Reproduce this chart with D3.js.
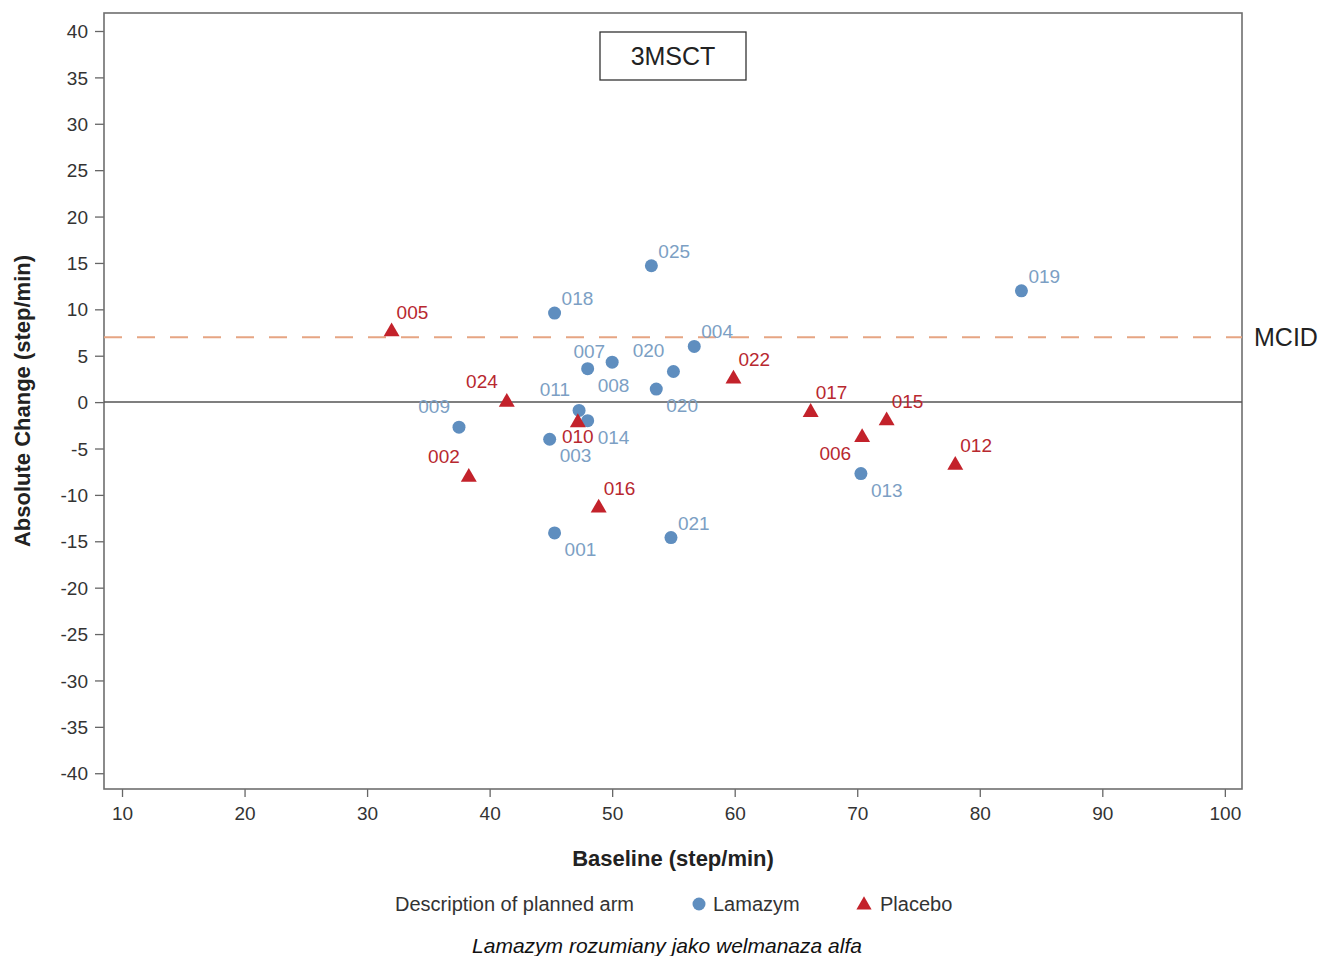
<!DOCTYPE html>
<html>
<head>
<meta charset="utf-8">
<script src="https://cdn.jsdelivr.net/npm/d3@7"></script>
<style>
  body { margin: 0; background: #fff; }
  svg { font-family: "Liberation Sans", Arial, sans-serif; }
</style>
</head>
<body>
<div id="chart"></div>
<script>
// Lamazym arm (blue circles)
const lamazymIds   = ["025", "018", "019", "004", "008", "007", "020", "020", "011", "014", "003", "009", "001", "021", "013"];
const lamazymBase  = [53.2, 45.3, 83.4, 56.7, 48.0, 50.0, 55.0, 53.6, 47.3, 48.0, 44.9, 37.5, 45.3, 54.8, 70.3];
const lamazymChg   = [14.7, 9.6, 12.0, 6.0, 3.6, 4.3, 3.3, 1.4, -0.9, -2.0, -4.0, -2.7, -14.1, -14.6, -7.7];
const lamazymPos   = ["ne", "ne", "ne", "ne", "se", "w", "nw", "se", "nw", "se", "se", "nw", "se", "ne", "se"];

// Placebo arm (red triangles)
const placeboIds   = ["005", "024", "002", "010", "016", "022", "017", "015", "006", "012"];
const placeboBase  = [32.0, 41.4, 38.3, 47.2, 48.9, 59.9, 66.2, 72.4, 70.4, 78.0];
const placeboChg   = [7.6, 0.0, -8.1, -2.2, -11.4, 2.5, -1.1, -2.0, -3.8, -6.8];
const placeboPos   = ["ne", "nw", "nw", "s", "ne", "ne", "ne", "ne", "sw", "ne"];

const xTicks = [10, 20, 30, 40, 50, 60, 70, 80, 90, 100];
const yTicks = [40, 35, 30, 25, 20, 15, 10, 5, 0, -5, -10, -15, -20, -25, -30, -35, -40];
const mcid = 7;

let width = 1322,
    height = 956,
    margin = ({ top: 13, right: 80, bottom: 167, left: 104 });

const blue = "#5f8ebf", blueText = "#7c9fc4";
const red = "#c3222b", redText = "#b8282f";

const svg = d3.select("#chart")
  .append("svg")
  .attr("width", width)
  .attr("height", height);

let x = d3.scaleLinear()
  .domain([8.53, 101.4])
  .range([margin.left, width - margin.right]);

let y = d3.scaleLinear()
  .domain([-41.7, 41.94])
  .range([height - margin.bottom, margin.top]);

const lamazym = lamazymIds.map((id, i) => ({ id, x: lamazymBase[i], y: lamazymChg[i], pos: lamazymPos[i], arm: "L" }));
const placebo = placeboIds.map((id, i) => ({ id, x: placeboBase[i], y: placeboChg[i], pos: placeboPos[i], arm: "P" }));

// axes (plain hyphen for negatives, like the original)
const xAxis = svg.append("g")
  .attr("transform", `translate(0,${height - margin.bottom})`)
  .call(d3.axisBottom(x).tickValues(xTicks).tickFormat(d => String(d)).tickSize(8).tickSizeOuter(0));

const yAxis = svg.append("g")
  .attr("transform", `translate(${margin.left},0)`)
  .call(d3.axisLeft(y).tickValues(yTicks).tickFormat(d => String(d)).tickSize(9).tickSizeOuter(0));

[xAxis, yAxis].forEach(g => {
  g.select(".domain").remove();
  g.selectAll(".tick line").attr("stroke", "#666").attr("stroke-width", 1.3);
  g.selectAll(".tick text").attr("fill", "#333").attr("font-size", 19);
});
xAxis.selectAll(".tick text").attr("y", 15).attr("dy", "0.85em");
yAxis.selectAll(".tick text").attr("dy", "0.35em").attr("x", -16);

// frame
svg.append("rect")
  .attr("x", margin.left)
  .attr("y", margin.top)
  .attr("width", width - margin.right - margin.left)
  .attr("height", height - margin.bottom - margin.top)
  .attr("fill", "none")
  .attr("stroke", "#6e6e6e")
  .attr("stroke-width", 1.6);

// zero line
svg.append("line")
  .attr("x1", margin.left).attr("x2", width - margin.right)
  .attr("y1", y(0)).attr("y2", y(0))
  .attr("stroke", "#555").attr("stroke-width", 1.5);

// MCID line
svg.append("line")
  .attr("x1", margin.left).attr("x2", width - margin.right)
  .attr("y1", y(mcid)).attr("y2", y(mcid))
  .attr("stroke", "#e6a583").attr("stroke-width", 2)
  .attr("stroke-dasharray", "18,15");

svg.append("text")
  .attr("x", width - margin.right + 12)
  .attr("y", y(mcid))
  .attr("dy", "0.36em")
  .attr("font-size", 25)
  .attr("fill", "#222")
  .text("MCID");

// title box
svg.append("rect")
  .attr("x", 600).attr("y", 32)
  .attr("width", 146).attr("height", 48)
  .attr("fill", "#fff")
  .attr("stroke", "#333").attr("stroke-width", 1.3);

svg.append("text")
  .attr("x", 673).attr("y", 56)
  .attr("dy", "0.36em")
  .attr("text-anchor", "middle")
  .attr("font-size", 25)
  .attr("fill", "#222")
  .text("3MSCT");

// points
svg.append("g")
  .selectAll("circle")
  .data(lamazym)
  .join("circle")
  .attr("cx", d => x(d.x))
  .attr("cy", d => y(d.y))
  .attr("r", 6.5)
  .attr("fill", blue);

const tri = d3.symbol().type(d3.symbolTriangle).size(110);
svg.append("g")
  .selectAll("path")
  .data(placebo)
  .join("path")
  .attr("transform", d => `translate(${x(d.x)},${y(d.y)})`)
  .attr("d", tri)
  .attr("fill", red);

// point labels
const offsets = {
  ne: { dx: 7, dy: -8, anchor: "start" },
  se: { dx: 10, dy: 23, anchor: "start" },
  nw: { dx: -9, dy: -14, anchor: "end" },
  sw: { dx: -11, dy: 23, anchor: "end" },
  s:  { dx: 0, dy: 20, anchor: "middle" },
  w:  { dx: -7, dy: -4, anchor: "end" }
};

svg.append("g")
  .selectAll("text")
  .data(lamazym.concat(placebo))
  .join("text")
  .attr("x", d => x(d.x) + offsets[d.pos].dx - (d.arm === "P" && d.pos === "ne" ? 2 : 0))
  .attr("y", d => y(d.y) + offsets[d.pos].dy - (d.arm === "P" && d.pos === "ne" ? 5 : 0))
  .attr("text-anchor", d => offsets[d.pos].anchor)
  .attr("font-size", 19)
  .attr("fill", d => d.arm === "L" ? blueText : redText)
  .text(d => d.id);

// axis titles
svg.append("text")
  .attr("x", (margin.left + width - margin.right) / 2)
  .attr("y", 866)
  .attr("text-anchor", "middle")
  .attr("font-size", 22)
  .attr("font-weight", "bold")
  .attr("fill", "#222")
  .text("Baseline (step/min)");

svg.append("text")
  .attr("transform", `translate(30,${(margin.top + height - margin.bottom) / 2}) rotate(-90)`)
  .attr("text-anchor", "middle")
  .attr("font-size", 22)
  .attr("font-weight", "bold")
  .attr("fill", "#222")
  .text("Absolute Change (step/min)");

// legend
const legend = svg.append("g").attr("font-size", 20).attr("fill", "#333");
legend.append("text").attr("x", 395).attr("y", 911).text("Description of planned arm");
legend.append("circle").attr("cx", 699).attr("cy", 904).attr("r", 6.5).attr("fill", blue);
legend.append("text").attr("x", 713).attr("y", 911).text("Lamazym");
legend.append("path").attr("transform", "translate(864,905)").attr("d", d3.symbol().type(d3.symbolTriangle).size(100)).attr("fill", red);
legend.append("text").attr("x", 880).attr("y", 911).text("Placebo");

// caption
svg.append("text")
  .attr("x", 667)
  .attr("y", 953)
  .attr("text-anchor", "middle")
  .attr("font-size", 21)
  .attr("font-style", "italic")
  .attr("fill", "#111")
  .text("Lamazym rozumiany jako welmanaza alfa");
</script>
</body>
</html>
